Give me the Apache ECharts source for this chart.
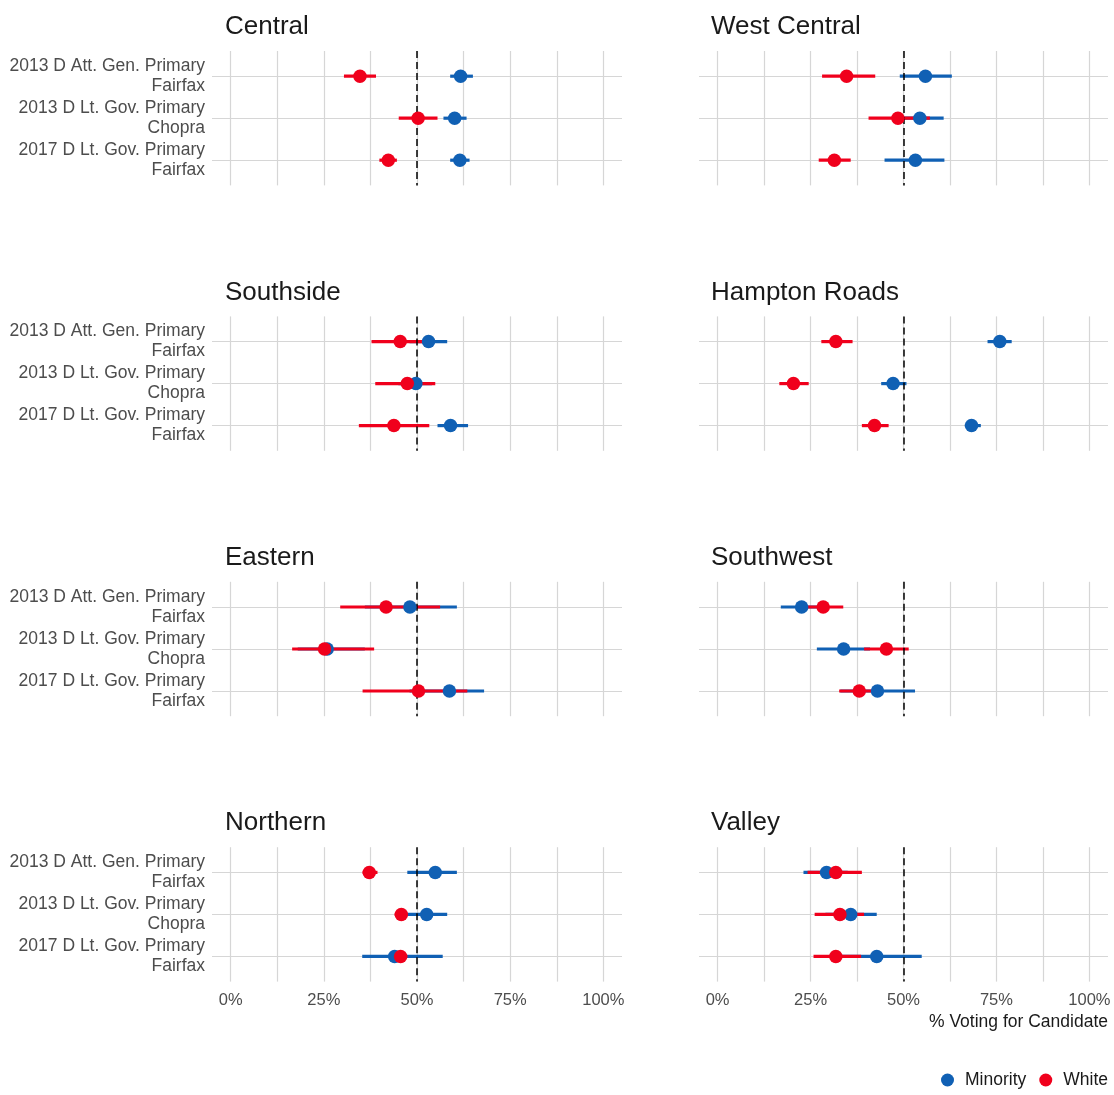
<!DOCTYPE html>
<html>
<head>
<meta charset="utf-8">
<script src="https://cdn.jsdelivr.net/npm/echarts@6/dist/echarts.min.js"></script>
<style>
  html, body { margin: 0; padding: 0; background: #fff; }
  #main { width: 1114px; height: 1095px; }
</style>
</head>
<body>
<div id="main"></div>
<script>
var regions = ['Central', 'West Central', 'Southside', 'Hampton Roads', 'Eastern', 'Southwest', 'Northern', 'Valley'];
var contests = ['2013 D Att. Gen. Primary\nFairfax', '2013 D Lt. Gov. Primary\nChopra', '2017 D Lt. Gov. Primary\nFairfax'];
var xTicks = [0, 25, 50, 75, 100];
var xGrid = [0, 12.5, 25, 37.5, 50, 62.5, 75, 87.5, 100];

// one row per region, one value per contest (% voting for candidate)
var minorityEst = [
  [61.7, 60.1, 61.5], [55.9, 54.4, 53.2], [53.1, 49.7, 59.0], [75.9, 47.2, 68.3],
  [48.1, 25.9, 58.7], [22.6, 33.9, 43.0], [54.9, 52.6, 44.0], [29.3, 35.8, 42.8]
];
var minorityLo = [
  [58.9, 57.1, 58.9], [49.0, 48.0, 44.9], [48.0, 45.0, 55.5], [72.6, 44.0, 66.5],
  [36.0, 18.0, 48.0], [17.0, 26.7, 33.0], [47.4, 47.0, 35.3], [23.1, 29.0, 31.0]
];
var minorityHi = [
  [65.0, 63.3, 64.1], [63.0, 60.8, 61.0], [58.1, 54.0, 63.7], [79.1, 50.8, 70.8],
  [60.7, 36.0, 68.0], [28.0, 41.0, 53.1], [60.7, 58.1, 56.9], [35.0, 42.8, 54.9]
];
var whiteEst = [
  [34.7, 50.3, 42.3], [34.7, 48.5, 31.4], [45.5, 47.4, 43.8], [31.8, 20.4, 42.2],
  [41.7, 25.2, 50.4], [28.4, 45.4, 38.1], [37.2, 45.8, 45.6], [31.8, 32.9, 31.8]
];
var whiteLo = [
  [30.4, 45.1, 39.9], [28.1, 40.6, 27.2], [37.8, 38.8, 34.4], [27.9, 16.6, 38.8],
  [29.4, 16.5, 35.4], [23.5, 39.4, 32.7], [35.4, 44.0, 43.7], [24.2, 26.1, 25.8]
];
var whiteHi = [
  [39.0, 55.5, 44.6], [42.4, 57.1, 35.8], [54.4, 54.9, 53.3], [36.3, 24.5, 46.0],
  [56.2, 38.5, 63.5], [33.8, 51.4, 43.5], [39.4, 47.4, 47.4], [38.8, 39.4, 38.6]
];

(function () {
  var BLUE = '#1060B4';
  var RED = '#F0001C';
  var FONT = "'Liberation Sans', Arial, sans-serif";

  var grids = [], xAxes = [], yAxes = [], series = [], titles = [];

  // horizontal interval lines, drawn through the axes' own coordinates
  function errorBars(name, color, idx, lo, hi) {
    var d = [];
    for (var j = 0; j < contests.length; j++) d.push([lo[idx][j], hi[idx][j], j + 1]);
    return {
      name: name, type: 'custom', xAxisIndex: idx, yAxisIndex: idx, z: 3, silent: true,
      renderItem: function (params, api) {
        var a = api.coord([api.value(0), api.value(2)]);
        var b = api.coord([api.value(1), api.value(2)]);
        return { type: 'line', shape: { x1: a[0], y1: a[1], x2: b[0], y2: b[1] },
          style: { stroke: color, lineWidth: 3.2 } };
      },
      encode: { x: [0, 1], y: 2 },
      data: d
    };
  }

  function points(name, color, idx, est, z) {
    var d = [];
    for (var j = 0; j < contests.length; j++) d.push([est[idx][j], j + 1]);
    return { name: name, type: 'scatter', xAxisIndex: idx, yAxisIndex: idx, z: z,
      symbol: 'circle', symbolSize: 13.5, itemStyle: { color: color, opacity: 1 }, data: d };
  }

  for (var i = 0; i < regions.length; i++) {
    var col = i % 2, row = Math.floor(i / 2);
    var gTop = 51 + row * 265.4;
    grids.push({ left: col === 0 ? 212 : 699, top: gTop, width: col === 0 ? 410 : 409, height: 134.4 });
    titles.push({ text: regions[i], left: col === 0 ? 220 : 706, top: gTop - 42,
      textStyle: { fontFamily: FONT, fontSize: 26, fontWeight: 'normal', color: '#1a1a1a' } });
    xAxes.push({
      type: 'value', gridIndex: i, min: -5, max: 105,
      axisLine: { show: false },
      axisTick: { show: false, customValues: xGrid },
      axisLabel: { show: row === 3, customValues: xTicks, margin: 10, formatter: '{value}%',
        fontFamily: FONT, fontSize: 16.5, color: '#4d4d4d' },
      splitLine: { show: true, lineStyle: { color: '#d6d6d6', width: 1.2 } }
    });
    yAxes.push({
      type: 'value', gridIndex: i, min: 0.4, max: 3.6, inverse: true,
      axisLine: { show: false },
      axisTick: { show: false, customValues: [1, 2, 3] },
      axisLabel: { show: col === 0, customValues: [1, 2, 3], margin: 7,
        formatter: function (v) { return contests[Math.round(v) - 1] || ''; },
        fontFamily: FONT, fontSize: 17.5, lineHeight: 20, color: '#4d4d4d', align: 'right' },
      splitLine: { show: true, lineStyle: { color: '#d6d6d6', width: 1.2 } }
    });
    // dashed reference at 50%
    series.push({ name: 'ref', type: 'line', xAxisIndex: i, yAxisIndex: i, z: 2, data: [],
      markLine: { silent: true, symbol: 'none', label: { show: false },
        lineStyle: { color: '#000', type: [7, 4], width: 1.5 }, data: [{ xAxis: 50 }] } });
    series.push(errorBars('Minority CI', BLUE, i, minorityLo, minorityHi));
    series.push(errorBars('White CI', RED, i, whiteLo, whiteHi));
    series.push(points('Minority', BLUE, i, minorityEst, 5));
    series.push(points('White', RED, i, whiteEst, 6));
  }

  titles.push({ text: '% Voting for Candidate', right: 6, top: 1013, padding: 0,
    textStyle: { fontFamily: FONT, fontSize: 17.5, fontWeight: 'normal', color: '#1a1a1a' } });

  var option = {
    animation: false,
    backgroundColor: '#fff',
    title: titles,
    grid: grids,
    xAxis: xAxes,
    yAxis: yAxes,
    legend: {
      data: ['Minority', 'White'], right: 6, top: 1071, padding: 0,
      icon: 'circle', itemWidth: 25, itemHeight: 13, itemGap: 13,
      textStyle: { fontFamily: FONT, fontSize: 17.5, color: '#1a1a1a' }
    },
    series: series
  };
  var myChart = echarts.init(document.getElementById('main'));
  myChart.setOption(option);
  window.addEventListener('resize', function () { myChart.resize(); });
})();
</script>
</body>
</html>
